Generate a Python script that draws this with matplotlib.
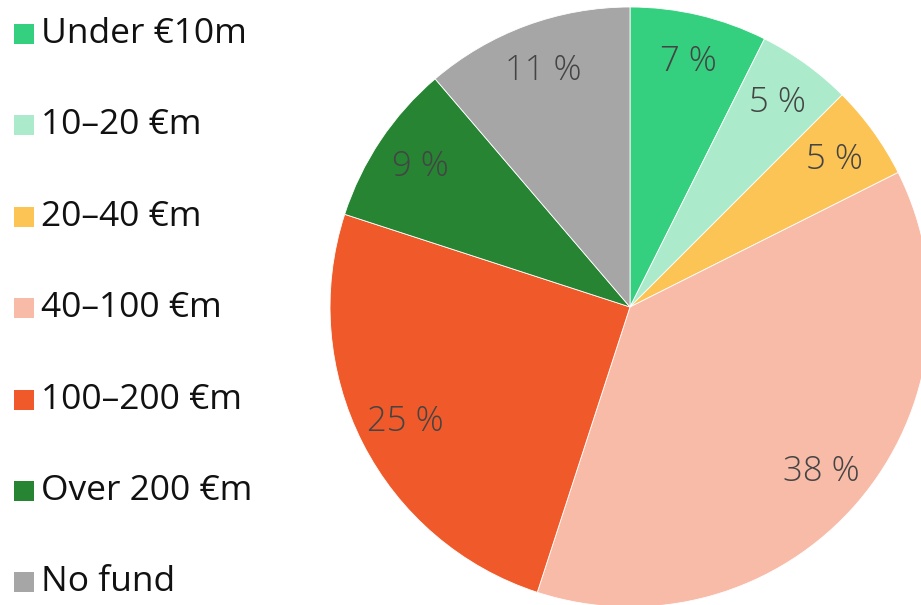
import matplotlib
matplotlib.use("Agg")
import matplotlib.pyplot as plt
from matplotlib.patches import Rectangle

categories = ["Under €10m", "10–20 €m", "20–40 €m", "40–100 €m", "100–200 €m", "Over 200 €m", "No fund"]
shares = [7.4, 5.1, 5.1, 37.4, 25.0, 8.75, 11.25]
pct_labels = ["7 %", "5 %", "5 %", "38 %", "25 %", "9 %", "11 %"]
colors = ["#35D07F", "#ABEBCB", "#FBC455", "#F8BBA8", "#F05A2A", "#268433", "#A6A6A6"]

plt.rcParams['font.family'] = ['Open Sans', 'DejaVu Sans']

W, H = 921, 605
fig = plt.figure(figsize=(W / 100, H / 100), dpi=100)
ax = fig.add_axes([0, 0, 1, 1])

wedges, texts = ax.pie(shares, colors=colors, labels=pct_labels, startangle=90,
                       counterclock=False, center=(630, H - 307), radius=300,
                       labeldistance=0.84, frame=True,
                       wedgeprops=dict(linewidth=0.6, edgecolor='white'),
                       textprops=dict(fontsize=25, color='#444444', fontweight='light'))
for t in texts:
    t.set_ha('center')
    t.set_va('center')
ax.set_xlim(0, W)
ax.set_ylim(0, H)
ax.set_aspect('equal')
ax.axis('off')

# legend
y0 = 34
step = 91.4
for i, (c, lab) in enumerate(zip(colors, categories)):
    y = H - (y0 + i * step)
    ax.add_patch(Rectangle((14, y - 10), 20, 20, facecolor=c, edgecolor='none'))
    ax.text(41, y, lab, fontsize=25.5, color='#111111', va='center', ha='left')

fig.savefig("out.png", dpi=100)
